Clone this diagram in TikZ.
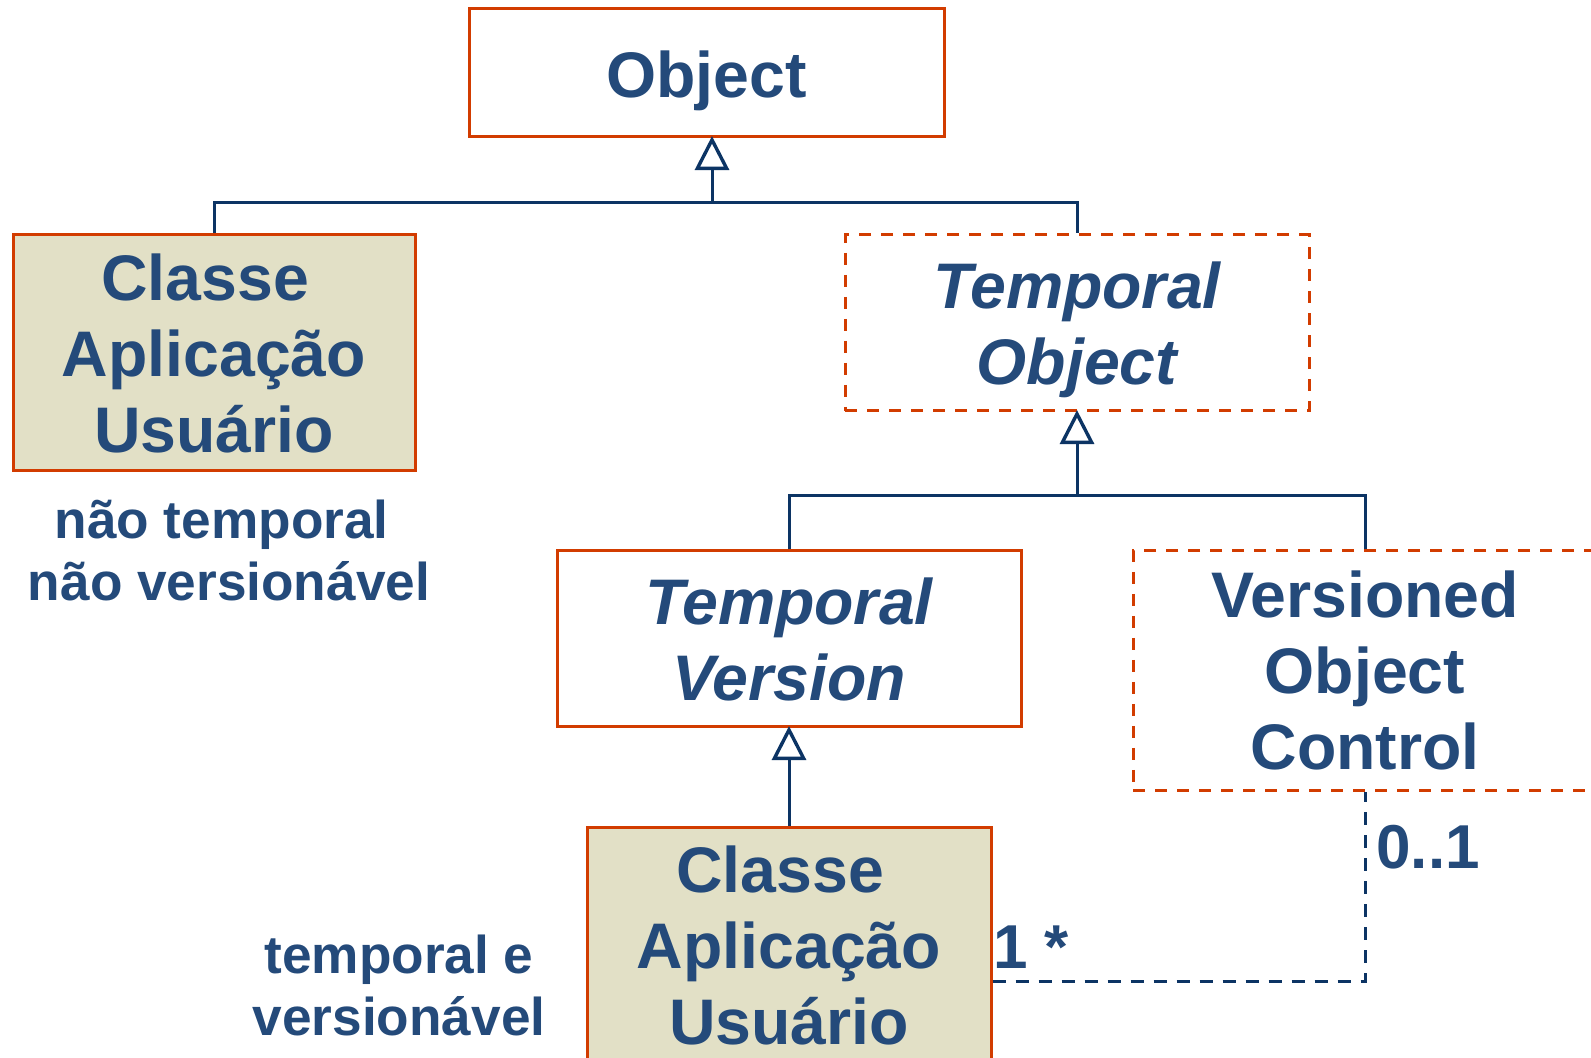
\documentclass[tikz,border=0pt]{standalone}
\usepackage{fontspec}
\setmainfont{Liberation Sans}
\usetikzlibrary{arrows.meta}
\definecolor{txt}{RGB}{36,74,122}
\definecolor{lin}{RGB}{12,52,100}
\definecolor{brd}{RGB}{210,60,0}
\definecolor{fil}{RGB}{226,224,198}
\tikzset{
 cls/.style={draw=brd, line width=1.5pt, text=txt, font=\fontsize{32.2}{38}\selectfont\bfseries, align=center, inner sep=0pt},
 abst/.style={cls, dash pattern=on 6pt off 5pt},
 app/.style={cls, fill=fil},
 gen/.style={draw=lin, line width=1.5pt, shorten >=-1.2pt, -{Triangle[open, width=17pt, length=17pt, fill=white, line width=1.7pt]}},
 conn/.style={draw=lin, line width=1.5pt},
 assoc/.style={draw=lin, line width=1.5pt, dash pattern=on 6.5pt off 5pt},
 note/.style={text=txt, font=\fontsize{26.6}{31}\selectfont\bfseries, align=center},
 mult/.style={text=txt, font=\fontsize{31}{37}\selectfont\bfseries, inner sep=0pt},
}
\begin{document}
\begin{tikzpicture}[x=0.5pt,y=-0.5pt]
\clip (0,0) rectangle (1591,1058);
\fill[white] (0,0) rectangle (1591,1058);
\node[cls, minimum width=237.5pt, minimum height=64pt] (obj) at (706.5,73) {\rule{0pt}{31pt}Object};
\node[app, minimum width=201pt, minimum height=118pt] (c1) at (214,353) {Classe\hspace*{0.278em}\\Aplicação\\Usuário};
\node[abst, minimum width=232pt, minimum height=88pt] (tobj) at (1077,323) {\itshape\rule{0pt}{30pt}Temporal\\\itshape Object};
\node[cls, minimum width=232pt, minimum height=88pt] (tver) at (789,639) {\itshape Temporal\\\itshape Version};
\node[abst, minimum width=232pt, minimum height=119.5pt] (voc) at (1365,670.5) {Versioned\\Object\\Control};
\node[app, minimum width=202pt, minimum height=118pt] (c2) at (789,945) {Classe\hspace*{0.278em}\\Aplicação\\Usuário};
\coordinate (j1) at (712,203);
\draw[conn] (c1.north) |- (j1) -| (tobj.north);
\draw[gen] (j1) -- (j1 |- obj.south);
\coordinate (j2) at (1077,496);
\draw[conn] (tver.north) |- (j2) -| (voc.north);
\draw[gen] (j2) -- (tobj.south);
\draw[gen] (c2.north) -- (tver.south);
\coordinate (a1) at (991,981);
\draw[assoc] (c2.east |- a1) -| (voc.south);
\node[note] (n1) at (229,550) {não temporal\hspace*{0.278em}\\não versionável};
\node[note] (n2) at (399,985) {temporal e\\versionável};
\node[mult] (m1) at (1428,847) {0..1};
\node[mult] (m2) at (1031,947) {1 *};
\end{tikzpicture}
\end{document}
